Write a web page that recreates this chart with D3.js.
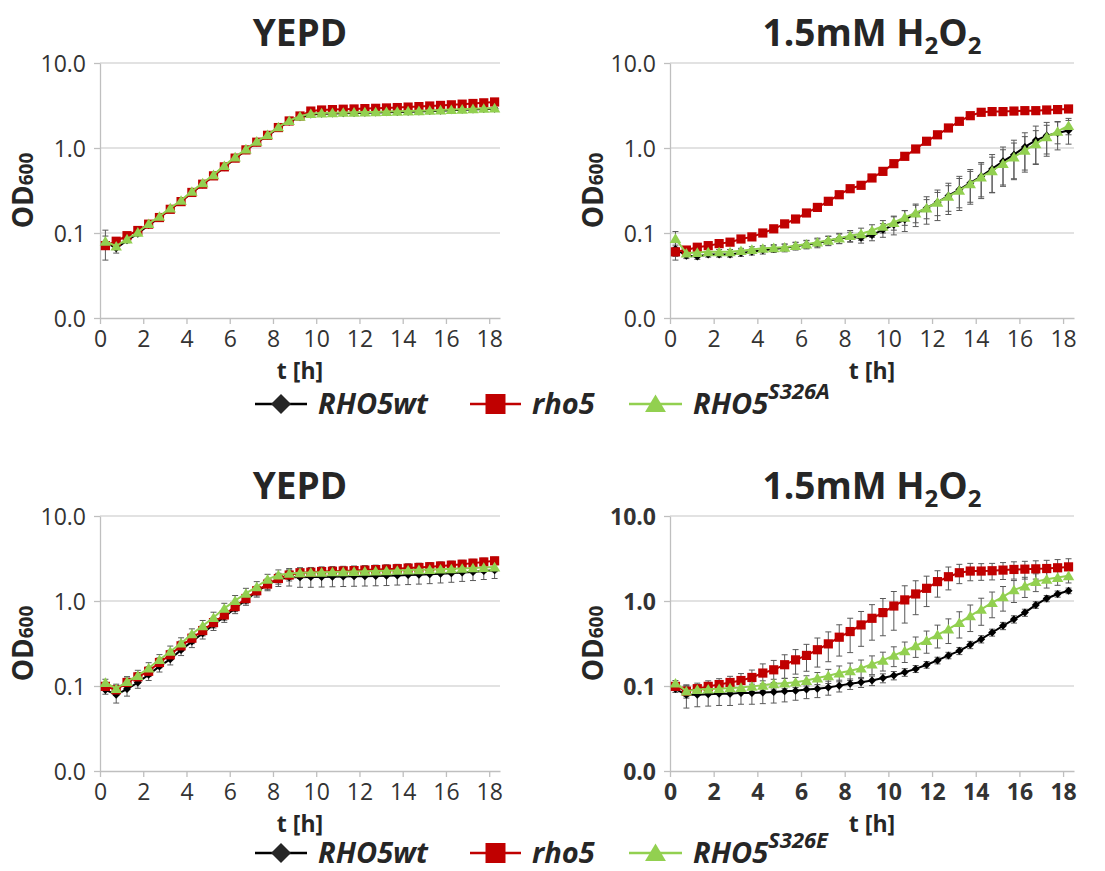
<!DOCTYPE html>
<html>
<head>
<meta charset="utf-8">
<script src="https://cdn.jsdelivr.net/npm/d3@7"></script>
<style>
  body { margin: 0; background: #fff; }
  svg { font-family: "Open Sans", sans-serif; }
</style>
</head>
<body>
<div id="chart"></div>
<script>
// sampling times [h]
const times = [0.25,0.75,1.25,1.75,2.25,2.75,3.25,3.75,4.25,4.75,5.25,5.75,6.25,6.75,7.25,7.75,8.25,8.75,9.25,9.75,
  10.25,10.75,11.25,11.75,12.25,12.75,13.25,13.75,14.25,14.75,15.25,15.75,16.25,16.75,17.25,17.75,18.25];
const xTicks = [0,2,4,6,8,10,12,14,16,18];
const yTicks = [0.01,0.1,1,10];

// top left: YEPD, S326A
const aWt = [0.078,0.066,0.082,0.098,0.124,0.151,0.19,0.235,0.298,0.372,0.468,0.595,0.755,0.94,1.16,1.39,1.72,2.04,2.30,2.48,
  2.53,2.55,2.57,2.58,2.60,2.61,2.63,2.65,2.67,2.69,2.72,2.75,2.78,2.81,2.84,2.87,2.90];
const aWtErr = [0.03,0.008,0.005,0.005,0.006,0.006,0.008,0.008,0.01,0.012,0.015,0.02,0.02,0.03,0.03,0.04,0.04,0.05,0.05,0.05,
  0.05,0.05,0.05,0.05,0.05,0.05,0.05,0.05,0.05,0.05,0.05,0.05,0.05,0.05,0.05,0.05,0.05];
const aRho5 = [0.071,0.080,0.093,0.107,0.127,0.152,0.19,0.234,0.30,0.375,0.47,0.60,0.76,0.95,1.17,1.41,1.74,2.08,2.38,2.72,
  2.80,2.83,2.86,2.88,2.91,2.93,2.96,2.99,3.03,3.07,3.12,3.17,3.22,3.28,3.34,3.40,3.48];
const aRho5Err = [0.006,0.004,0.004,0.004,0.005,0.005,0.006,0.007,0.008,0.01,0.012,0.015,0.02,0.02,0.03,0.03,0.04,0.04,0.04,0.05,
  0.05,0.05,0.05,0.05,0.05,0.05,0.05,0.05,0.05,0.05,0.05,0.05,0.05,0.05,0.05,0.05,0.05];
const aMut = [0.080,0.070,0.085,0.102,0.129,0.157,0.197,0.242,0.309,0.388,0.485,0.620,0.784,0.973,1.20,1.43,1.77,2.10,2.36,2.54,
  2.58,2.60,2.62,2.63,2.65,2.66,2.68,2.70,2.72,2.74,2.77,2.80,2.83,2.86,2.89,2.92,2.95];
const aMutErr = [0.012,0.005,0.004,0.004,0.005,0.005,0.006,0.007,0.008,0.01,0.012,0.015,0.02,0.02,0.03,0.03,0.04,0.04,0.04,0.05,
  0.05,0.05,0.05,0.05,0.05,0.05,0.05,0.05,0.05,0.05,0.05,0.05,0.05,0.05,0.05,0.05,0.05];

// top right: 1.5mM H2O2, S326A
const bWt = [0.065,0.054,0.053,0.056,0.056,0.056,0.058,0.060,0.0625,0.065,0.067,0.070,0.073,0.076,0.081,0.086,0.090,0.088,0.095,0.109,
  0.125,0.144,0.169,0.197,0.23,0.275,0.324,0.388,0.464,0.567,0.697,0.835,1.03,1.23,1.40,1.50,1.61];
const bWtErr = [0.012,0.004,0.004,0.004,0.004,0.004,0.005,0.005,0.006,0.006,0.007,0.007,0.008,0.009,0.01,0.011,0.012,0.012,0.014,0.02,
  0.03,0.04,0.05,0.07,0.09,0.11,0.14,0.17,0.21,0.27,0.33,0.40,0.48,0.58,0.60,0.55,0.50];
const bRho5 = [0.060,0.063,0.068,0.071,0.075,0.078,0.085,0.090,0.10,0.112,0.128,0.146,0.172,0.20,0.236,0.282,0.332,0.364,0.444,0.531,
  0.654,0.798,0.973,1.20,1.43,1.72,2.06,2.40,2.63,2.68,2.68,2.72,2.75,2.75,2.80,2.83,2.88];
const bRho5Err = [0.012,0.003,0.003,0.003,0.003,0.003,0.004,0.004,0.005,0.005,0.006,0.007,0.008,0.01,0.012,0.014,0.016,0.02,0.02,0.025,
  0.03,0.035,0.04,0.05,0.05,0.06,0.06,0.06,0.06,0.06,0.06,0.06,0.06,0.06,0.06,0.06,0.06];
const bMut = [0.086,0.058,0.059,0.060,0.060,0.060,0.062,0.064,0.066,0.067,0.068,0.071,0.074,0.078,0.082,0.087,0.093,0.098,0.107,0.12,
  0.133,0.153,0.172,0.197,0.23,0.27,0.318,0.38,0.456,0.54,0.654,0.784,0.94,1.12,1.35,1.57,1.83];
const bMutErr = [0.018,0.004,0.004,0.004,0.004,0.004,0.004,0.005,0.005,0.006,0.006,0.007,0.008,0.009,0.01,0.012,0.014,0.016,0.018,0.02,
  0.025,0.03,0.04,0.05,0.07,0.09,0.12,0.15,0.19,0.24,0.30,0.36,0.42,0.48,0.50,0.45,0.40];

// bottom left: YEPD, S326E
const cWt = [0.09,0.079,0.092,0.11,0.136,0.17,0.207,0.266,0.333,0.417,0.525,0.65,0.82,1.03,1.29,1.57,1.80,1.90,1.90,1.91,
  1.92,1.93,1.94,1.95,1.96,1.97,1.98,2.00,2.02,2.04,2.06,2.09,2.12,2.16,2.20,2.25,2.30];
const cWtErr = [0.01,0.016,0.016,0.016,0.02,0.024,0.03,0.038,0.05,0.06,0.075,0.09,0.11,0.14,0.18,0.25,0.32,0.40,0.45,0.46,
  0.46,0.46,0.46,0.46,0.46,0.46,0.46,0.46,0.46,0.46,0.46,0.46,0.46,0.46,0.46,0.46,0.46];
const cRho5 = [0.099,0.09,0.11,0.128,0.149,0.189,0.233,0.297,0.365,0.449,0.557,0.685,0.86,1.07,1.32,1.58,1.84,2.02,2.15,2.18,
  2.22,2.24,2.26,2.28,2.31,2.34,2.37,2.40,2.44,2.48,2.53,2.58,2.64,2.71,2.79,2.88,2.97];
const cRho5Err = [0.01,0.012,0.014,0.016,0.02,0.025,0.03,0.04,0.05,0.06,0.075,0.09,0.11,0.14,0.17,0.22,0.26,0.30,0.30,0.30,
  0.30,0.30,0.30,0.30,0.30,0.30,0.30,0.30,0.30,0.30,0.30,0.30,0.30,0.30,0.30,0.30,0.30];
const cMut = [0.110,0.093,0.113,0.133,0.163,0.204,0.255,0.319,0.41,0.51,0.638,0.82,1.01,1.23,1.47,1.80,2.02,2.11,2.15,2.17,
  2.18,2.20,2.21,2.22,2.24,2.25,2.27,2.29,2.31,2.33,2.35,2.37,2.39,2.42,2.45,2.48,2.51];
const cMutErr = [0.01,0.012,0.016,0.02,0.025,0.03,0.04,0.05,0.06,0.08,0.1,0.12,0.15,0.18,0.22,0.26,0.30,0.30,0.30,0.30,
  0.30,0.30,0.30,0.30,0.30,0.30,0.30,0.30,0.30,0.30,0.30,0.30,0.30,0.30,0.30,0.30,0.30];

// bottom right: 1.5mM H2O2, S326E
const dWt = [0.092,0.079,0.079,0.080,0.081,0.081,0.083,0.083,0.084,0.085,0.087,0.088,0.091,0.093,0.096,0.101,0.106,0.111,0.116,0.124,
  0.133,0.145,0.159,0.178,0.2,0.229,0.259,0.305,0.356,0.426,0.51,0.61,0.73,0.90,1.07,1.21,1.32];
const dWtErr = [0.008,0.024,0.022,0.022,0.022,0.022,0.022,0.022,0.022,0.022,0.022,0.02,0.02,0.02,0.018,0.016,0.015,0.015,0.015,0.015,
  0.015,0.015,0.015,0.016,0.018,0.02,0.025,0.03,0.035,0.04,0.05,0.06,0.07,0.08,0.09,0.1,0.1];
const dRho5 = [0.099,0.087,0.093,0.099,0.104,0.11,0.116,0.126,0.142,0.155,0.178,0.203,0.229,0.267,0.313,0.375,0.437,0.523,0.626,0.73,
  0.873,1.03,1.21,1.41,1.69,1.93,2.15,2.25,2.25,2.27,2.31,2.35,2.37,2.39,2.41,2.46,2.52];
const dRho5Err = [0.008,0.015,0.015,0.016,0.018,0.02,0.024,0.028,0.04,0.045,0.055,0.065,0.08,0.1,0.12,0.15,0.19,0.23,0.28,0.34,
  0.42,0.48,0.52,0.55,0.58,0.58,0.55,0.52,0.50,0.50,0.52,0.54,0.56,0.58,0.60,0.61,0.62];
const dMut = [0.108,0.087,0.091,0.092,0.093,0.095,0.096,0.099,0.102,0.106,0.108,0.111,0.116,0.124,0.132,0.142,0.151,0.162,0.181,0.2,
  0.229,0.259,0.297,0.343,0.40,0.466,0.557,0.667,0.798,0.955,1.12,1.35,1.5,1.69,1.8,1.89,1.98];
const dMutErr = [0.008,0.012,0.012,0.012,0.012,0.012,0.012,0.013,0.013,0.014,0.015,0.015,0.016,0.02,0.025,0.03,0.035,0.04,0.045,0.05,
  0.06,0.07,0.08,0.1,0.12,0.15,0.19,0.23,0.28,0.32,0.36,0.39,0.40,0.40,0.38,0.36,0.35];

const strains = ["RHO5wt", "rho5", "RHO5"];
const mutantTags = ["S326A", "S326E"];
const colors = { wt: "#000000", rho5: "#c00000", mut: "#92d050" };

const W = 1105, H = 871;
const svg = d3.select("#chart").append("svg").attr("width", W).attr("height", H);

const panels = [
  { title: "YEPD", h2o2: false, left: 100, right: 500, top: 63, bottom: 318, bold: false, wt: aWt, wtE: aWtErr, rho: aRho5, rhoE: aRho5Err, mut: aMut, mutE: aMutErr },
  { title: "1.5mM H", h2o2: true, left: 670, right: 1074, top: 63, bottom: 318, bold: false, wt: bWt, wtE: bWtErr, rho: bRho5, rhoE: bRho5Err, mut: bMut, mutE: bMutErr },
  { title: "YEPD", h2o2: false, left: 100, right: 500, top: 516, bottom: 771, bold: false, wt: cWt, wtE: cWtErr, rho: cRho5, rhoE: cRho5Err, mut: cMut, mutE: cMutErr },
  { title: "1.5mM H", h2o2: true, left: 670, right: 1074, top: 516, bottom: 771, bold: true, wt: dWt, wtE: dWtErr, rho: dRho5, rhoE: dRho5Err, mut: dMut, mutE: dMutErr }
];

// marker shapes
function diamond(r) { return `M0,${-r}L${r},0L0,${r}L${-r},0Z`; }
function square(r) { return `M${-r},${-r}H${r}V${r}H${-r}Z`; }
function triangle(r) { return `M0,${-r}L${r * 1.1},${r * 0.85}L${-r * 1.1},${r * 0.85}Z`; }

panels.forEach(p => {
  const g = svg.append("g");
  const x = d3.scaleLinear().domain([0, 18.5]).range([p.left, p.right]);
  const y = d3.scaleLog().domain([0.01, 10]).range([p.bottom, p.top]);
  const midX = (p.left + p.right) / 2;
  const midY = (p.top + p.bottom) / 2;

  // title
  const t = g.append("text")
    .attr("x", midX).attr("y", p.top - 17)
    .attr("text-anchor", "middle")
    .style("font-size", "37px").style("font-weight", 700).style("fill", "#262626");
  if (p.h2o2) {
    t.append("tspan").text("1.5mM H");
    t.append("tspan").text("2").style("font-size", "24px").attr("dy", 8);
    t.append("tspan").text("O").attr("dy", -8);
    t.append("tspan").text("2").style("font-size", "24px").attr("dy", 8);
  } else {
    t.text(p.title);
  }

  // grid
  g.selectAll(".grid").data(yTicks.slice(1)).enter().append("line")
    .attr("x1", p.left).attr("x2", p.right)
    .attr("y1", d => y(d)).attr("y2", d => y(d))
    .style("stroke", "#d9d9d9").style("stroke-width", 1.3);

  // axes
  const xAxis = g.append("g")
    .attr("transform", "translate(0," + p.bottom + ")")
    .call(d3.axisBottom(x).tickValues(xTicks).tickSize(6).tickPadding(6).tickSizeOuter(0));
  const yAxis = g.append("g")
    .attr("transform", "translate(" + p.left + ",0)")
    .call(d3.axisLeft(y).tickValues(yTicks).tickFormat(d3.format(".1f")).tickSize(6).tickPadding(8).tickSizeOuter(0));
  [xAxis, yAxis].forEach(a => {
    a.select(".domain").style("stroke", "#bfbfbf").style("stroke-width", 1.3);
    a.selectAll(".tick line").style("stroke", "#bfbfbf").style("stroke-width", 1.3);
    a.selectAll(".tick text")
      .style("font-family", '"Open Sans", sans-serif')
      .style("font-size", "23px")
      .style("font-weight", p.bold ? 700 : 400)
      .style("fill", "#333");
  });
  yAxis.selectAll(".tick text").attr("dy", "0.36em");
  xAxis.selectAll(".tick text").attr("dy", "0.76em");

  // axis titles
  g.append("text")
    .attr("x", midX).attr("y", p.bottom + 61)
    .attr("text-anchor", "middle")
    .style("font-size", "23px").style("font-weight", 700).style("fill", "#262626")
    .text("t [h]");
  const od = g.append("text")
    .attr("transform", "translate(" + (p.left - 67) + "," + midY + ") rotate(-90)")
    .attr("text-anchor", "middle")
    .style("font-size", "28px").style("font-weight", 700).style("fill", "#262626");
  od.append("tspan").text("OD");
  od.append("tspan").text("600").style("font-size", "19px");

  // series: black, red, green
  const series = [
    { v: p.wt, e: p.wtE, c: colors.wt, shape: diamond, r: 4 },
    { v: p.rho, e: p.rhoE, c: colors.rho5, shape: square, r: 4.6 },
    { v: p.mut, e: p.mutE, c: colors.mut, shape: triangle, r: 5.2 }
  ];

  // error bars first
  series.forEach(s => {
    const eg = g.append("g").style("stroke", "#595959").style("stroke-width", 1);
    times.forEach((tt, i) => {
      const hi = s.v[i] + s.e[i];
      const lo = Math.max(0.011, s.v[i] - s.e[i]);
      const cx = x(tt);
      eg.append("line").attr("x1", cx).attr("x2", cx).attr("y1", y(hi)).attr("y2", y(lo));
      eg.append("line").attr("x1", cx - 3).attr("x2", cx + 3).attr("y1", y(hi)).attr("y2", y(hi));
      eg.append("line").attr("x1", cx - 3).attr("x2", cx + 3).attr("y1", y(lo)).attr("y2", y(lo));
    });
  });

  const line = d3.line().x((d, i) => x(times[i])).y(d => y(d));
  series.forEach(s => {
    g.append("path").datum(s.v)
      .attr("d", line)
      .style("fill", "none").style("stroke", s.c).style("stroke-width", 2);
    g.selectAll(null).data(s.v).enter().append("path")
      .attr("transform", (d, i) => "translate(" + x(times[i]) + "," + y(d) + ")")
      .attr("d", s.shape(s.r))
      .style("fill", s.c);
  });
});

// legends
function legend(yPos, tag) {
  const lg = svg.append("g").attr("transform", "translate(0," + yPos + ")");
  const items = [
    { x1: 255, x2: 307, tx: 318, c: "#000000", mc: "#262626", shape: diamond(10), name: strains[0] },
    { x1: 470, x2: 521, tx: 532, c: colors.rho5, mc: colors.rho5, shape: square(10), name: strains[1] },
    { x1: 629, x2: 682, tx: 693, c: colors.mut, mc: colors.mut, shape: triangle(9.5), name: strains[2], sup: tag }
  ];
  items.forEach(it => {
    lg.append("line").attr("x1", it.x1).attr("x2", it.x2).attr("y1", 0).attr("y2", 0)
      .style("stroke", it.c).style("stroke-width", 2.5);
    lg.append("path").attr("transform", "translate(" + ((it.x1 + it.x2) / 2) + ",0)")
      .attr("d", it.shape).style("fill", it.mc);
    const tx = lg.append("text").attr("x", it.tx).attr("y", 10)
      .style("font-size", "29px").style("font-weight", 700).style("font-style", "italic").style("fill", "#262626");
    tx.append("tspan").text(it.name);
    if (it.sup) tx.append("tspan").text(it.sup).attr("dy", -15).style("font-size", "22px");
  });
}
legend(404, mutantTags[0]);
legend(853, mutantTags[1]);
</script>
</body>
</html>
